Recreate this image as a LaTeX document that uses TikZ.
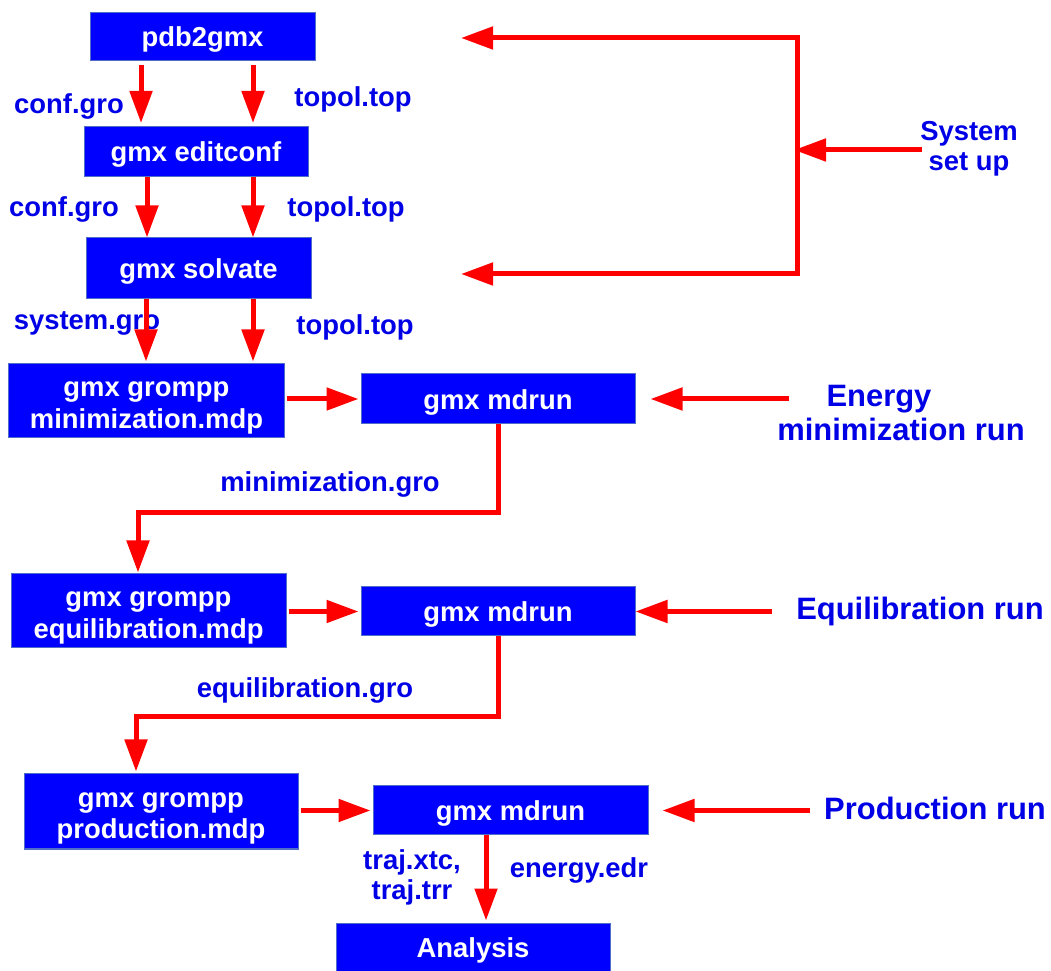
\documentclass[tikz,border=0pt]{standalone}
\usepackage{fontspec}
\setmainfont{Liberation Sans}
\usetikzlibrary{arrows.meta}

\definecolor{boxblue}{RGB}{0,0,255}
\definecolor{edgeblue}{RGB}{80,110,200}
\definecolor{labelblue}{RGB}{0,0,230}
\definecolor{flowred}{RGB}{255,0,0}

% strut that lowers the first row of a text block
\newcommand{\rowstrut}[1][16.2pt]{\rule{0pt}{#1}}

\tikzset{
  stepbox/.style={fill=boxblue, draw=edgeblue, line width=0.02cm, text=white,
    font=\bfseries\fontsize{15.6}{18.0}\selectfont, align=center, inner sep=0pt,
    execute at begin node={\rule{0pt}{14.8pt}}},
  filelabel/.style={text=labelblue, font=\bfseries\fontsize{15.6}{17.0}\selectfont,
    align=center, inner sep=0pt, execute at begin node={\rule{0pt}{13.6pt}}},
  runlabel/.style={text=labelblue, font=\bfseries\fontsize{17.6}{19.3}\selectfont,
    align=center, inner sep=0pt},
  flowline/.style={draw=flowred, line width=0.1cm},
  flow/.style={flowline, -{Triangle[length=0.64cm,width=0.44cm]}},
}

\begin{document}
\begin{tikzpicture}
                \useasboundingbox (0,0) rectangle (21.020000,19.400000);
                
                % Drawing step boxes
                \node [stepbox, minimum width=4.50cm, minimum height=0.96cm] (pdb) at (4.050000,18.670000) {pdb2gmx};%
                \node [stepbox, minimum width=4.48cm, minimum height=1.00cm] (edit) at (3.920000,16.370000) {gmx editconf};%
                \node [stepbox, minimum width=4.50cm, minimum height=1.22cm] (solv) at (3.970000,14.030000) {gmx solvate};%
                \node [stepbox, minimum width=5.50cm, minimum height=1.48cm] (gmin) at (2.930000,11.380000) {\rowstrut gmx grompp\\minimization.mdp};%
                \node [stepbox, minimum width=5.48cm, minimum height=1.00cm] (md1) at (9.960000,11.420000) {gmx mdrun};%
                \node [stepbox, minimum width=5.50cm, minimum height=1.48cm] (geq) at (2.970000,7.180000) {\rowstrut gmx grompp\\equilibration.mdp};%
                \node [stepbox, minimum width=5.48cm, minimum height=0.98cm] (md2) at (9.960000,7.170000) {gmx mdrun};%
                \node [stepbox, minimum width=5.48cm, minimum height=1.50cm] (gprod) at (3.220000,3.170000) {\rowstrut gmx grompp\\production.mdp};%
                \node [stepbox, minimum width=5.50cm, minimum height=0.98cm] (md3) at (10.210000,3.190000) {gmx mdrun};%
                \node [stepbox, minimum width=5.48cm, minimum height=0.96cm] (ana) at (9.460000,0.460000) {Analysis};%
                
                % Marking file names
                \node [filelabel] (cgA) at (1.380000,17.320000) {conf.gro};%
                \node [filelabel] (ttA) at (7.060000,17.460000) {topol.top};%
                \node [filelabel] (cgB) at (1.280000,15.260000) {conf.gro};%
                \node [filelabel] (ttB) at (6.920000,15.260000) {topol.top};%
                \node [filelabel] (sysgro) at (1.740000,13.000000) {system.gro};%
                \node [filelabel] (ttC) at (7.100000,12.900000) {topol.top};%
                \node [filelabel] (mingro) at (6.600000,9.760000) {minimization.gro};%
                \node [filelabel] (eqgro) at (6.100000,5.640000) {equilibration.gro};%
                \node [filelabel] (traj) at (8.240000,1.860000) {traj.xtc,\\traj.trr};%
                \node [filelabel] (edr) at (11.580000,2.040000) {energy.edr};%
                
                % Marking run stages
                \node [filelabel] (sysup) at (19.380000,16.500000) {\rowstrut[14.8pt]System\\set up};%
                \node [runlabel] (emin) at (18.020000,11.140000) {Energy\hspace*{0.88cm}\\minimization run};%
                \node [runlabel] (equil) at (18.400000,7.160000) {Equilibration run};%
                \node [runlabel] (prodrun) at (18.700000,3.240000) {Production run};%
                
                % Bend points
                \coordinate (setupTop) at (15.940000,18.640000);%
                \coordinate (setupBot) at (15.940000,13.920000);%
                \coordinate (setupMid) at (15.940000,16.400000);%
                \coordinate (toPdb) at (9.220000,18.640000);%
                \coordinate (toSolv) at (9.220000,13.920000);%
                \coordinate (minbend) at (2.760000,9.140000);%
                \coordinate (eqbend) at (2.720000,5.060000);%
                
                % Drawing flow pdb2gmx editconf
                \draw [flow, shorten <=0.08cm, shorten >=0.06cm] ([xshift=-1.23cm]pdb.south) -- ([xshift=-1.23cm]pdb.south |- edit.north);%
                \draw [flow, shorten <=0.08cm, shorten >=0.06cm] ([xshift=1.01cm]pdb.south) -- ([xshift=1.01cm]pdb.south |- edit.north);%
                
                % Drawing flow editconf solvate
                \draw [flow] ([xshift=-0.98cm]edit.south) -- ([xshift=-0.98cm]edit.south |- solv.north);%
                \draw [flow] ([xshift=1.14cm]edit.south) -- ([xshift=1.14cm]edit.south |- solv.north);%
                
                % Drawing flow solvate grompp
                \draw [flow, shorten >=0.04cm] ([xshift=-1.05cm]solv.south) -- ([xshift=-1.05cm]solv.south |- gmin.north);%
                \draw [flow, shorten >=0.04cm] ([xshift=1.09cm]solv.south) -- ([xshift=1.09cm]solv.south |- gmin.north);%
                
                % Drawing flow grompp mdrun
                \draw [flow, shorten <=0.04cm, shorten >=0.04cm] (gmin.east |- md1.west) -- (md1.west);%
                \draw [flow, shorten <=0.04cm, shorten >=0.04cm] (geq.east |- md2.west) -- (md2.west);%
                \draw [flow, shorten <=0.04cm, shorten >=0.04cm] (gprod.east |- md3.west) -- (md3.west);%
                
                % Drawing flow mdrun next grompp
                \draw [flow, shorten >=0.02cm] (md1.south) |- (minbend) -- (minbend |- geq.north);%
                \draw [flow, shorten >=0.04cm] (md2.south) |- (eqbend) -- (eqbend |- gprod.north);%
                
                % Drawing flow mdrun analysis
                \draw [flow, shorten >=0.04cm] ([xshift=-0.49cm]md3.south) -- ([xshift=-0.49cm]md3.south |- ana.north);%
                
                % Drawing system set up bracket
                \draw [flowline, {Triangle[length=0.64cm,width=0.44cm]}-{Triangle[length=0.64cm,width=0.44cm]}] (toPdb) -- (setupTop) -- (setupBot) -- (toSolv);%
                \draw [flow, shorten >=-0.06cm] ([xshift=0.04cm]sysup.west |- setupMid) -- (setupMid);%
                
                % Drawing stage arrows
                \draw [flow] ([xshift=0.24cm]emin.west |- md1.east) -- ([xshift=0.30cm]md1.east);%
                \draw [flow] ([xshift=-0.48cm]equil.west |- md2.east) -- (md2.east);%
                \draw [flow] ([xshift=-0.28cm]prodrun.west |- md3.east) -- ([xshift=0.28cm]md3.east);%
\end{tikzpicture}
\end{document}
